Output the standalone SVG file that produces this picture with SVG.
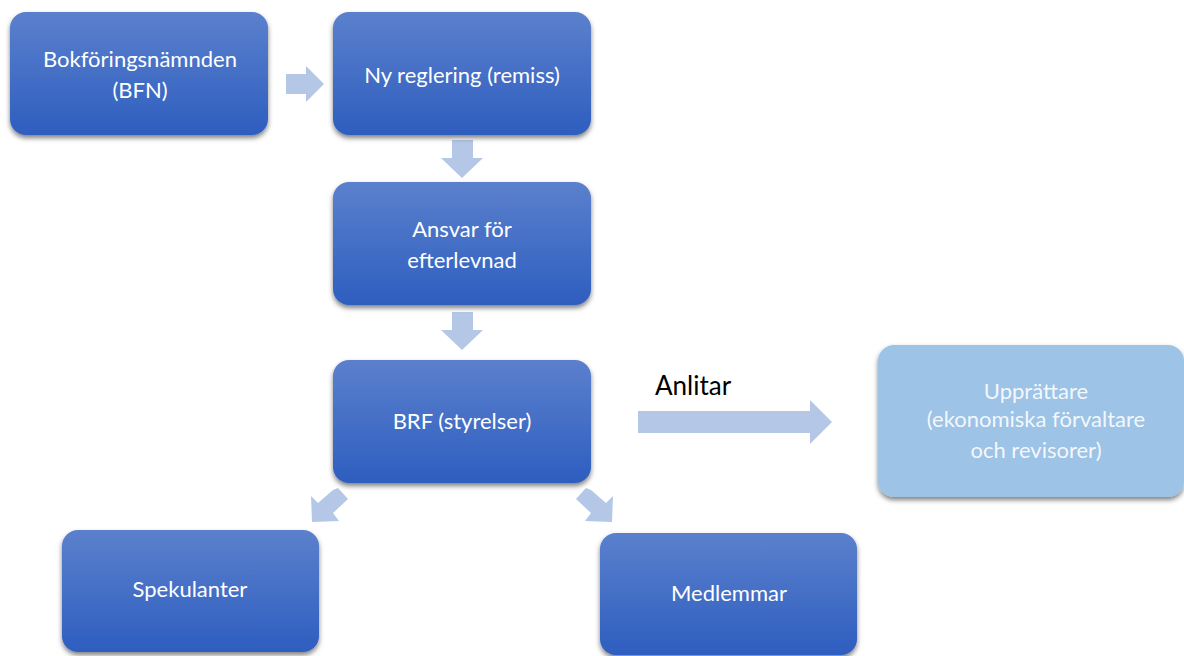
<svg xmlns="http://www.w3.org/2000/svg" width="1184" height="656" viewBox="0 0 1184 656">
<defs>
<linearGradient id="g" x1="0" y1="0" x2="0" y2="1">
<stop offset="0" stop-color="#5b80cd"/>
<stop offset="1" stop-color="#2e5ebf"/>
</linearGradient>
<filter id="sh" x="-10%" y="-10%" width="120%" height="130%">
<feDropShadow dx="0" dy="3" stdDeviation="2.5" flood-color="#000" flood-opacity="0.5"/>
</filter>
</defs>
<style>
.box{fill:url(#g);filter:url(#sh)}
.lbox{fill:#9dc3e6;filter:url(#sh)}
.t{font-family:Lato,"Open Sans",sans-serif;font-size:22px;fill:#fff;text-anchor:middle}
.arr{fill:#b4c7e7}
.lab{font-family:Lato,"Open Sans",sans-serif;font-size:26px;fill:#000}
</style>
<rect width="1184" height="656" fill="#fff"/>
<g id="connectors">
<polygon class="arr" points="286,74 306,74 306,66 324,84 306,102 306,94 286,94"/>
<polygon class="arr" points="452,140 473,140 473,158 483,158 462,178 441,158 452,158"/>
<polygon class="arr" points="452,312 473,312 473,330 483,330 462,350 441,330 452,330"/>
<polygon class="arr" points="638,411 810,411 810,400 832,422 810,444 810,433 638,433"/>
<polygon class="arr" points="338,488 348,499 333,513 339,521 312,522 311,496 318,503 333,490"/>
<polygon class="arr" points="586,488 576,499 591,513 585,521 612,522 613,496 606,503 591,490"/>
<text class="lab" x="655" y="395">Anlitar</text>
</g>
<g id="n1"><rect class="box" x="10" y="12" width="258" height="123" rx="16"/><text class="t" x="140" y="67">Bokföringsnämnden</text><text class="t" x="140" y="98">(BFN)</text></g>
<g id="n2"><rect class="box" x="333" y="12" width="258" height="123" rx="16"/><text class="t" x="462" y="83">Ny reglering (remiss)</text></g>
<g id="n3"><rect class="box" x="333" y="182" width="258" height="123" rx="16"/><text class="t" x="462" y="237">Ansvar för</text><text class="t" x="462" y="268">efterlevnad</text></g>
<g id="n4"><rect class="box" x="333" y="360" width="258" height="123" rx="16"/><text class="t" x="462" y="429">BRF (styrelser)</text></g>
<g id="n5"><rect class="lbox" x="878" y="345" width="306" height="152" rx="16"/><text class="t" x="1036" y="399" fill-opacity="0.9">Upprättare</text><text class="t" x="1036" y="427" fill-opacity="0.9">(ekonomiska förvaltare</text><text class="t" x="1036" y="458" fill-opacity="0.9">och revisorer)</text></g>
<g id="n6"><rect class="box" x="62" y="530" width="257" height="122" rx="16"/><text class="t" x="190" y="597">Spekulanter</text></g>
<g id="n7"><rect class="box" x="600" y="533" width="257" height="122" rx="16"/><text class="t" x="729" y="601">Medlemmar</text></g>
</svg>
